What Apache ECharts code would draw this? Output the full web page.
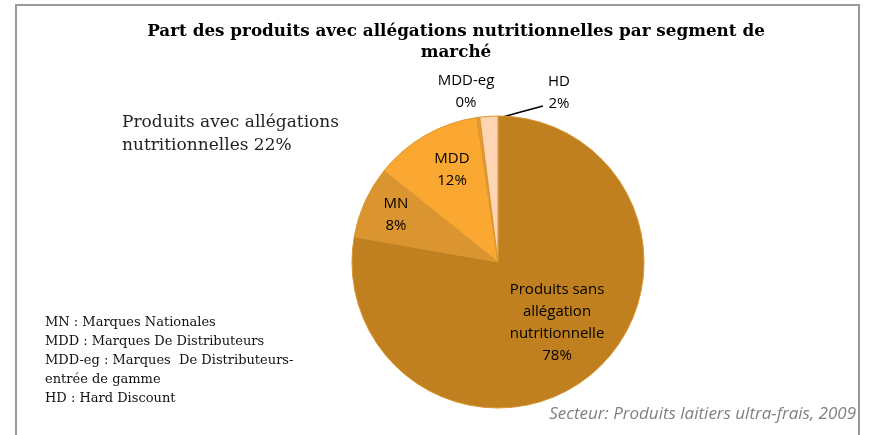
<!DOCTYPE html>
<html>
<head>
<meta charset="utf-8">
<script src="https://cdn.jsdelivr.net/npm/echarts@6/dist/echarts.min.js"></script>
<style>
  html, body { margin: 0; padding: 0; background: #fff; }
  #chart { width: 870px; height: 435px; }
</style>
</head>
<body>
<div id="chart"></div>
<script>
// données
const segments = ['Produits sans allégation nutritionnelle', 'MN', 'MDD', 'MDD-eg', 'HD'];
const segmentLabels = ['Produits sans\nallégation\nnutritionnelle', 'MN', 'MDD', 'MDD-eg', 'HD'];
const shares = [78, 8, 12, 0.3, 2];
const sliceColors = ['#C0801F', '#DA9530', '#FBA832', '#E89A35', '#FDD5B5'];
const avecText = 'Produits avec allégations\nnutritionnelles 22%';
const notes = [
  'MN : Marques Nationales',
  'MDD : Marques De Distributeurs',
  'MDD-eg : Marques  De Distributeurs-',
  'entrée de gamme',
  'HD : Hard Discount'
];
const source = 'Secteur: Produits laitiers ultra-frais, 2009';

// position des étiquettes (comme dans l'original)
const labelPos = [[557, 323], [396, 215], [452, 170], [466, 92], [559, 93]];

const chart = echarts.init(document.getElementById('chart'));

const option = {
  animation: false,
  title: {
    text: 'Part des produits avec allégations nutritionnelles par segment de\nmarché',
    left: 451,
    top: 16,
    textAlign: 'center',
    textStyle: {
      fontFamily: 'DejaVu Serif',
      fontWeight: 'bold',
      fontSize: 16.8,
      lineHeight: 21,
      color: '#000'
    }
  },
  graphic: [
    {
      type: 'rect',
      shape: { x: 16, y: 5, width: 843, height: 440 },
      style: { fill: 'none', stroke: '#9a9a9a', lineWidth: 2 }
    },
    {
      type: 'text',
      left: 122,
      top: 111,
      style: {
        text: avecText,
        font: '17px "DejaVu Serif"',
        lineHeight: 23,
        fill: '#222'
      }
    },
    {
      type: 'text',
      left: 45,
      top: 313,
      style: {
        text: notes.join('\n'),
        font: '13px "DejaVu Serif"',
        lineHeight: 19,
        fill: '#111'
      }
    },
    {
      type: 'text',
      right: 14,
      top: 406,
      style: {
        text: source,
        font: 'italic 17px "Open Sans"',
        fill: '#808080'
      }
    }
  ],
  series: [
    {
      type: 'pie',
      center: [498, 262],
      radius: 146,
      startAngle: 90,
      clockwise: true,
      avoidLabelOverlap: false,
      itemStyle: { borderColor: '#D8952E', borderWidth: 1 },
      label: {
        position: 'inside',
        fontFamily: 'Open Sans',
        fontSize: 15,
        lineHeight: 22,
        color: '#000',
        align: 'center',
        formatter: function (p) {
          return segmentLabels[p.dataIndex] + '\n' + Math.round(p.value) + '%';
        }
      },
      labelLine: { show: false },
      labelLayout: function (p) {
        const pos = labelPos[p.dataIndex];
        const out = { x: pos[0], y: pos[1], align: 'center', verticalAlign: 'middle' };
        if (p.dataIndex === 4) {
          // trait de rappel vers l'étiquette HD
          out.labelLinePoints = [[492, 120], [517, 113], [543, 106]];
        }
        return out;
      },
      data: shares.map(function (v, i) {
        const item = {
          name: segments[i],
          value: v,
          itemStyle: { color: sliceColors[i] }
        };
        if (i === 3) {
          item.label = { position: 'outside' };
          item.labelLine = { show: false };
        }
        if (i === 4) {
          item.label = { position: 'outside' };
          item.labelLine = { show: true, lineStyle: { color: '#000', width: 1.5 } };
        }
        return item;
      })
    }
  ]
};

chart.setOption(option);
</script>
</body>
</html>
